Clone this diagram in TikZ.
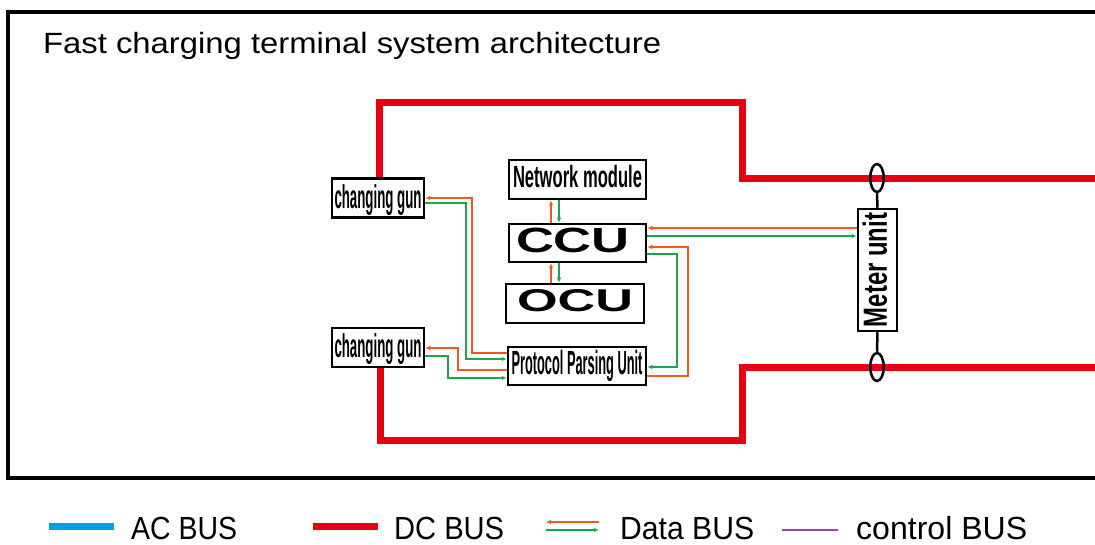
\documentclass[tikz,border=0pt]{standalone}
\usepackage{fontspec}
\setmainfont{Liberation Sans}
\usepackage{graphicx}
\usetikzlibrary{arrows.meta,shapes.geometric,backgrounds}
\definecolor{dcred}{RGB}{230,0,18}
\definecolor{acblue}{RGB}{0,160,233}
\definecolor{dorange}{RGB}{240,90,30}
\definecolor{dgreen}{RGB}{30,165,80}
\definecolor{cpurple}{RGB}{150,70,180}
\newcommand\fitw[3]{\resizebox{#1}{\height}{\fontsize{#2}{#2}\selectfont #3}}
\newcommand\shiftup[2]{\raisebox{#1}[\height][\depth]{#2}}
\begin{document}
\begin{tikzpicture}[x=1pt,y=-1pt,
  box/.style={draw,line width=2.5pt,fill=white,inner sep=0pt},
  ring/.style={draw,line width=2.5pt,ellipse,inner sep=0pt,minimum width=13.5pt,minimum height=28pt},
  dc/.style={line width=7pt,dcred,line join=miter},
  dor/.style={line width=1.2pt,dorange,-{Latex[length=5pt,width=4.5pt]}},
  dgr/.style={line width=1.2pt,dgreen,-{Latex[length=5pt,width=4.5pt]}},
  lbl/.style={anchor=base west,inner sep=0pt}]
\useasboundingbox (0,0) rectangle (1095,545);
% outer frame
\draw[line width=4pt,line join=miter] (1100,12) -- (8,12) -- (8,478) -- (1100,478);
% title
\node[lbl] (title) at (43,54) {\fitw{618pt}{29.3}{Fast charging terminal system architecture}};
% boxes
\node[box,minimum width=92pt,minimum height=39pt] (gun1) at (378,198) {\shiftup{-2.5pt}{\fitw{87pt}{33}{\bfseries changing gun}}};
\node[box,minimum width=92pt,minimum height=39pt] (gun2) at (378,347.5) {\shiftup{-2pt}{\fitw{87pt}{33}{\bfseries changing gun}}};
\node[box,minimum width=137pt,minimum height=39pt] (net) at (577.5,179.5) {\shiftup{2.5pt}{\fitw{129pt}{30.7}{\bfseries Network module}}};
\node[box,minimum width=137pt,minimum height=38pt] (ccu) at (577.5,243) {\kern-9pt\shiftup{2.5pt}{\fitw{114pt}{35}{\bfseries CCU}}};
\node[box,minimum width=138pt,minimum height=39pt] (ocu) at (575,303.5) {\shiftup{3pt}{\fitw{116pt}{31.5}{\bfseries OCU}}};
\node[box,minimum width=138pt,minimum height=38pt] (ppu) at (577,366) {\fitw{131pt}{33.5}{\bfseries Protocol Parsing Unit}};
\node[box,minimum width=39pt,minimum height=122pt] (meter) at (877.5,270) {\rotatebox{90}{\shiftup{2.5pt}{\fitw{114pt}{33.5}{\bfseries Meter unit}}}};
\node[ring] (ring1) at (877,178) {};
\node[ring] (ring2) at (877,367) {};
\coordinate (dcR1) at (1100,178.5);
\coordinate (dcR2) at (1100,367);
% DC bus
\begin{scope}[on background layer]
\draw[dc] ([xshift=1pt]gun1.north) -- (379,103) -- (742,103) -- (742,178.5) -- (dcR1);
\draw[dc] ([xshift=2pt]gun2.south) -- (380,440) -- (742,440) -- (742,367) -- (dcR2);
\end{scope}
\draw[line width=2.5pt] (ring1.south) -- (meter.north);
\draw[line width=2.5pt] (meter.south) -- (ring2.north);
% data bus
\draw[dor] (ppu.west |- 0,353) -- (472,353) -- (472,198) -- (gun1.east |- 0,198);
\draw[dgr] (gun1.east |- 0,203) -- (466,203) -- (466,359) -- (ppu.west |- 0,359);
\draw[dor] (ppu.west |- 0,370) -- (458,370) -- (458,348) -- (gun2.east |- 0,348);
\draw[dgr] (gun2.east |- 0,356) -- (448,356) -- (448,378) -- (ppu.west |- 0,378);
\draw[dor] (ccu.north -| 551,0) -- (net.south -| 551,0);
\draw[dgr] (net.south -| 559,0) -- (ccu.north -| 559,0);
\draw[dor] (ocu.north -| 551,0) -- (ccu.south -| 551,0);
\draw[dgr] (ccu.south -| 559,0) -- (ocu.north -| 559,0);
\draw[dor] (meter.west |- 0,228) -- (ccu.east |- 0,228);
\draw[dgr] (ccu.east |- 0,236) -- (meter.west |- 0,236);
\draw[dor] (ppu.east |- 0,376) -- (688,376) -- (688,247) -- (ccu.east |- 0,247);
\draw[dgr] (ccu.east |- 0,254) -- (677,254) -- (677,367) -- (ppu.east |- 0,367);
% legend
\draw[line width=7pt,acblue] (49,526.5) -- (114,526.5);
\node[lbl] (lac) at (131,539) {\fitw{106pt}{32}{AC BUS}};
\draw[line width=7pt,dcred] (313,526.5) -- (378,526.5);
\node[lbl] (ldc) at (394,539) {\fitw{110pt}{32}{DC BUS}};
\draw[dor] (599,522) -- (546,522);
\draw[dgr] (546,530) -- (599,530);
\node[lbl] (ldata) at (620,539) {\fitw{134pt}{32}{Data BUS}};
\draw[line width=1.2pt,cpurple] (782,530) -- (838,530);
\node[lbl] (lctl) at (856,539) {\fitw{171pt}{32}{control BUS}};
\end{tikzpicture}
\end{document}
